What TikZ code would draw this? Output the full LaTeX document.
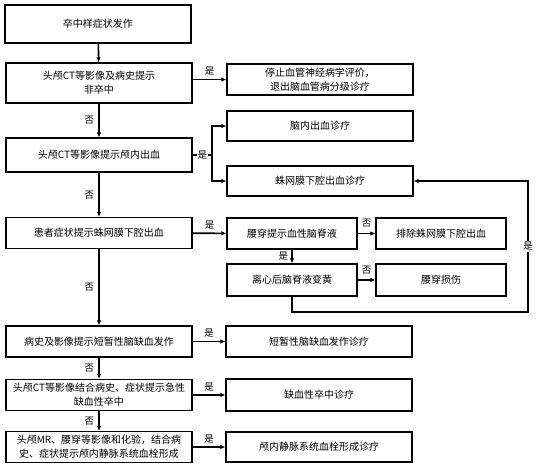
\documentclass[tikz,border=0pt]{standalone}
\usepackage{fontspec}
\newfontfamily\cjk{Noto Sans CJK SC}
\usetikzlibrary{arrows.meta}
\tikzset{
  box/.style={draw, line width=1.2pt, inner sep=0pt, align=center,
    minimum width=186pt, minimum height=31pt,
    font=\cjk\fontsize{10}{14}\selectfont},
  sbox/.style={box, minimum width=130pt},
  link/.style={line width=1.6pt, -{Latex[length=5pt,width=4.5pt]}},
  lab/.style={font=\cjk\fontsize{9.5}{11}\selectfont, inner sep=1pt}
}
\begin{document}
\begin{tikzpicture}[x=1pt,y=-1pt]
\useasboundingbox (0,0) rectangle (558,468);
% left column
\node[box, minimum height=38pt] (onset) at (98,24) {卒中样症状发作};
\node[box, minimum height=40pt] (nonstroke) at (99,83) {头颅CT等影像及病史提示\\非卒中};
\node[box, minimum height=34pt] (ich) at (99,155) {头颅CT等影像提示颅内出血};
\node[box] (sahsym) at (99,233) {患者症状提示蛛网膜下腔出血};
\node[box] (tia) at (99,341.5) {病史及影像提示短暂性脑缺血发作};
\node[box] (ais) at (99,395) {头颅CT等影像结合病史、症状提示急性\\缺血性卒中};
\node[box] (cvt) at (99,447) {头颅MR、腰穿等影像和化验，结合病\\史、症状提示颅内静脉系统血栓形成};
% right column
\node[box] (stop) at (320,79.5) {停止血管神经病学评价，\\退出脑血管病分级诊疗};
\node[box, minimum height=30pt] (ichdx) at (320,126) {脑内出血诊疗};
\node[box, minimum height=30pt] (sahdx) at (320,181) {蛛网膜下腔出血诊疗};
\node[box] (tiadx) at (319,341.5) {短暂性脑缺血发作诊疗};
\node[box, minimum height=32pt] (aisdx) at (319,395) {缺血性卒中诊疗};
\node[box, minimum height=30pt] (cvtdx) at (319,447) {颅内静脉系统血栓形成诊疗};
% lumbar puncture
\node[sbox] (lp) at (292,233.5) {腰穿提示血性脑脊液};
\node[sbox] (nosah) at (441,233.5) {排除蛛网膜下腔出血};
\node[sbox, minimum height=32pt] (xanth) at (292,280) {离心后脑脊液变黄};
\node[sbox, minimum height=32pt] (lpinj) at (441,280) {腰穿损伤};
\coordinate (fork) at (212,155);
\coordinate (lpdown) at (292,312);
\coordinate (lpright) at (528,312);
\coordinate (lpup) at (528,181);
% main line
\draw[link] (onset) -- (nonstroke);
\draw[link] (nonstroke) -- node[lab, left=3pt] {否} (ich);
\draw[link] (ich) -- node[lab, left=3pt] {否} (sahsym);
\draw[link] (sahsym) -- node[lab, left=3pt] {否} (tia);
\draw[link] (tia) -- node[lab, left=3pt] {否} (ais);
\draw[link] (ais) -- node[lab, left=3pt] {否} (cvt);
% yes branches
\draw[link] (nonstroke.east |- stop) -- node[lab, above=2pt] {是} (stop);
\draw[line width=1.6pt] (ich.east) -- node[lab, fill=white] {是} (fork);
\draw[link] (fork) |- (ichdx);
\draw[link] (fork) |- (sahdx);
\draw[link] (sahsym) -- node[lab, above=2pt] {是} (lp);
\draw[link] (lp) -- node[lab, above=4pt] {否} (nosah);
\draw[link] (lp) -- node[lab, left=2pt] {是} (xanth);
\draw[link] (xanth) -- node[lab, above=4pt] {否} (lpinj);
\draw[link] (xanth) -- (lpdown) -- (lpright) -- node[lab, fill=white, pos=0.5] {是} (lpup) -- (sahdx);
\draw[link] (tia) -- node[lab, above=2pt] {是} (tiadx);
\draw[link] (ais) -- node[lab, above=2pt] {是} (aisdx);
\draw[link] (cvt) -- node[lab, above=2pt] {是} (cvtdx);
\end{tikzpicture}
\end{document}
